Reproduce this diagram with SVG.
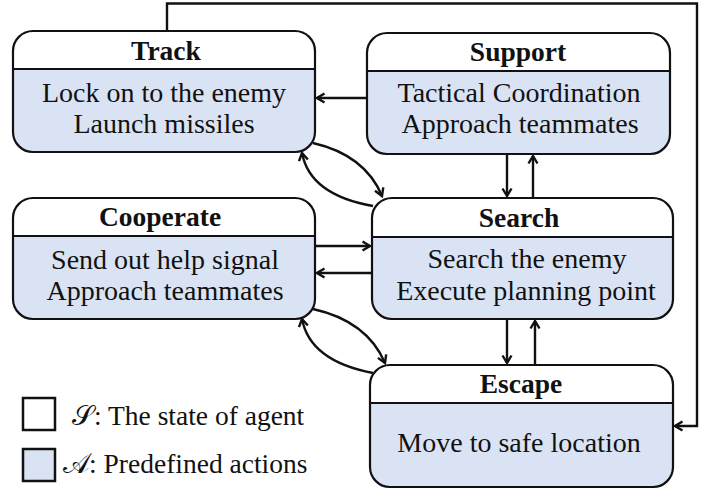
<svg xmlns="http://www.w3.org/2000/svg" width="718" height="489" viewBox="0 0 718 489">
<defs>
<style>
.body{fill:#dae3f3}
.hdr{fill:#ffffff}
.out{fill:none;stroke:#111;stroke-width:2.2}
.div{stroke:#111;stroke-width:2}
.t{font-family:"Liberation Serif","Times New Roman",serif;font-size:28px;fill:#111;text-anchor:middle}
.tb{font-weight:bold;font-size:27.5px}
.lg{font-family:"Liberation Serif","Times New Roman",serif;font-size:27.5px;fill:#111}
.c{fill:none;stroke:#111;stroke-width:2.4;marker-end:url(#ah)}
</style>
<marker id="ah" viewBox="0 0 12 12" markerWidth="12" markerHeight="12" refX="9.5" refY="6" orient="auto" markerUnits="userSpaceOnUse">
<path d="M2,1.5 L9.5,6 L2,10.5" fill="none" stroke="#111" stroke-width="2.4" stroke-linejoin="miter"/>
</marker>
</defs>
<rect width="718" height="489" fill="#ffffff"/>

<g id="connectors">
<path class="c" d="M167,31 V3.5 H697 V426 H675"/>
<path class="c" d="M367,98 H317"/>
<path class="c" d="M507,154 V196"/>
<path class="c" d="M533,198 V156"/>
<path class="c" d="M315,246 H370"/>
<path class="c" d="M372,273 H317"/>
<path class="c" d="M507,319 V363"/>
<path class="c" d="M535,365 V321"/>
<path class="c" d="M313,143 Q365,155 382,196"/>
<path class="c" d="M373,206 Q310,195 302,153"/>
<path class="c" d="M313,309 Q367,321 385,363"/>
<path class="c" d="M373,373 Q310,361 302,319"/>
</g>

<g id="track">
<rect class="body" x="13" y="31" width="302" height="121" rx="20"/>
<path class="hdr" d="M13,69 V51 A20,20 0 0 1 33,31 H295 A20,20 0 0 1 315,51 V69 Z"/>
<line class="div" x1="13" y1="69" x2="315" y2="69"/>
<rect class="out" x="13" y="31" width="302" height="121" rx="20"/>
<text class="t tb" x="166" y="60">Track</text>
<text class="t" x="164" y="102">Lock on to the enemy</text>
<text class="t" x="164" y="133">Launch missiles</text>
</g>

<g id="support">
<rect class="body" x="367" y="33" width="303" height="121" rx="20"/>
<path class="hdr" d="M367,71 V53 A20,20 0 0 1 387,33 H650 A20,20 0 0 1 670,53 V71 Z"/>
<line class="div" x1="367" y1="71" x2="670" y2="71"/>
<rect class="out" x="367" y="33" width="303" height="121" rx="20"/>
<text class="t tb" x="518" y="61">Support</text>
<text class="t" x="519" y="102">Tactical Coordination</text>
<text class="t" x="520" y="133">Approach teammates</text>
</g>

<g id="cooperate">
<rect class="body" x="13" y="198" width="302" height="121" rx="20"/>
<path class="hdr" d="M13,236 V218 A20,20 0 0 1 33,198 H295 A20,20 0 0 1 315,218 V236 Z"/>
<line class="div" x1="13" y1="236" x2="315" y2="236"/>
<rect class="out" x="13" y="198" width="302" height="121" rx="20"/>
<text class="t tb" x="160" y="226">Cooperate</text>
<text class="t" x="165" y="269">Send out help signal</text>
<text class="t" x="165" y="300">Approach teammates</text>
</g>

<g id="search">
<rect class="body" x="372" y="198" width="301" height="121" rx="20"/>
<path class="hdr" d="M372,237 V218 A20,20 0 0 1 392,198 H653 A20,20 0 0 1 673,218 V237 Z"/>
<line class="div" x1="372" y1="237" x2="673" y2="237"/>
<rect class="out" x="372" y="198" width="301" height="121" rx="20"/>
<text class="t tb" x="519" y="227">Search</text>
<text class="t" x="527" y="268">Search the enemy</text>
<text class="t" x="526" y="300">Execute planning point</text>
</g>

<g id="escape">
<rect class="body" x="370" y="365" width="303" height="122" rx="20"/>
<path class="hdr" d="M370,403 V385 A20,20 0 0 1 390,365 H653 A20,20 0 0 1 673,385 V403 Z"/>
<line class="div" x1="370" y1="403" x2="673" y2="403"/>
<rect class="out" x="370" y="365" width="303" height="122" rx="20"/>
<text class="t tb" x="521" y="393">Escape</text>
<text class="t" x="519" y="452">Move to safe location</text>
</g>

<g id="legend">
<rect x="23" y="398" width="32" height="32" fill="#ffffff" stroke="#111" stroke-width="2.5"/>
<rect x="23" y="449" width="32" height="32" fill="#dae3f3" stroke="#111" stroke-width="2.5"/>
<text class="lg" x="72" y="425">𝒮: The state of agent</text>
<text class="lg" x="63" y="473">𝒜: Predefined actions</text>
</g>
</svg>
